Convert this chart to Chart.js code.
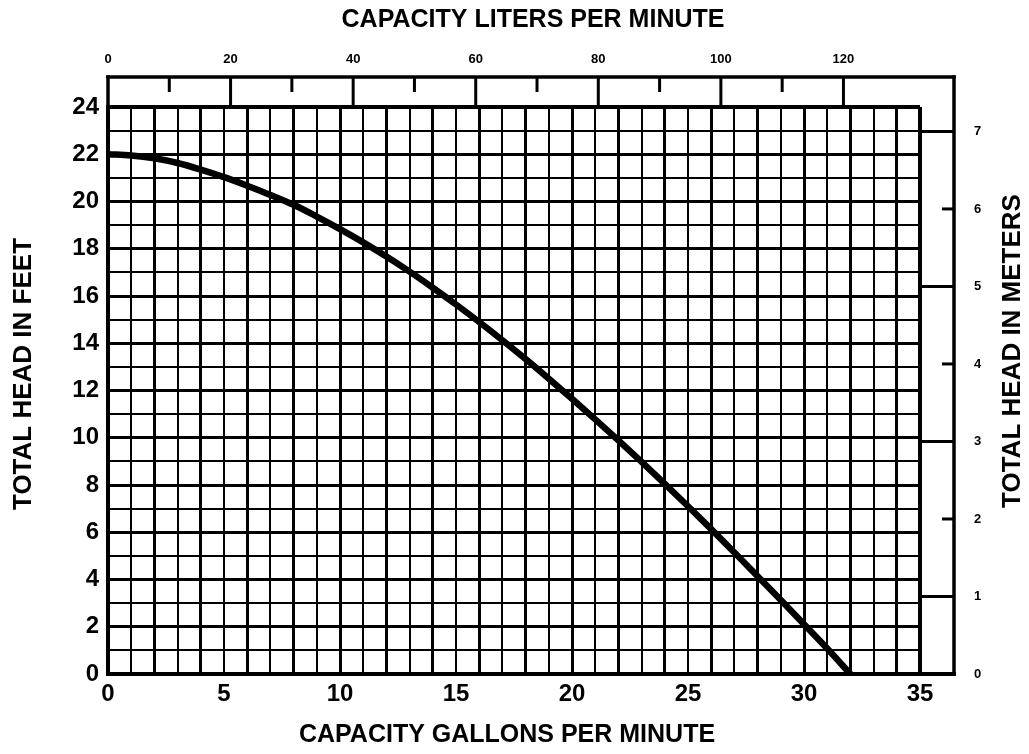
<!DOCTYPE html>
<html>
<head>
<meta charset="utf-8">
<script src="https://cdn.jsdelivr.net/npm/chart.js@4/dist/chart.umd.min.js"></script>
<style>
  html, body { margin: 0; padding: 0; background: #fff; }
  canvas { display: block; }
</style>
</head>
<body>
<canvas id="c" width="1029" height="754"></canvas>
<script>
// ---- data ----
const flowGpm = [0,1,2,3,4,5,6,7,8,9,10,11,12,13,14,15,16,17,18,19,20,21,22,23,24,25,26,27,28,29,30,31,32];
const headFt  = [22.0,21.95,21.83,21.63,21.35,21.03,20.67,20.28,19.86,19.36,18.83,18.27,17.67,17.03,16.35,15.64,14.9,14.13,13.33,12.5,11.65,10.78,9.89,8.98,8.05,7.1,6.13,5.14,4.14,3.13,2.11,1.08,0];

const gpmLabels   = [0,5,10,15,20,25,30,35];
const feetLabels  = [0,2,4,6,8,10,12,14,16,18,20,22,24];
const literLabels = [0,20,40,60,80,100,120];
const meterLabels = [0,1,2,3,4,5,6,7];

const titleBottom = 'CAPACITY GALLONS PER MINUTE';
const titleTop    = 'CAPACITY LITERS PER MINUTE';
const titleLeft   = 'TOTAL HEAD IN FEET';
const titleRight  = 'TOTAL HEAD IN METERS';

const GPM_MAX = 35, FT_MAX = 24;
const L_PER_GAL = 3.78541, M_PER_FT = 0.3048;

const FONT = "'Liberation Sans', Arial, Helvetica, sans-serif";

const lw = (ctx, edges) => {
  const v = ctx.tick ? ctx.tick.value : 0;
  if (edges.includes(v)) return 4;
  return (v % 2 === 0) ? 3 : 2;
};

const framePlugin = {
  id: 'frame',
  afterDraw(chart) {
    const { ctx, chartArea: a, scales } = chart;
    const x2 = scales.x2, y2 = scales.y2;
    const colW = 34, bandH = 30, minorLen = 15, shortTick = 12;
    const right = a.right + colW;
    const top = a.top - bandH;
    const line = (x1, y1, xx, yy, w) => {
      ctx.lineWidth = w; ctx.beginPath(); ctx.moveTo(x1, y1); ctx.lineTo(xx, yy); ctx.stroke();
    };
    ctx.save();
    ctx.strokeStyle = '#000';
    ctx.lineCap = 'square';
    line(a.left, top, right, top, 3.5);
    line(a.left, top, a.left, a.top, 3.5);
    line(right, top, right, a.bottom, 3.5);
    line(a.right, a.bottom, right, a.bottom, 4);
    ctx.lineCap = 'butt';
    x2.ticks.forEach(t => {
      const v = t.value;
      if (v <= 0 || !Number.isInteger(v)) return;
      const px = x2.getPixelForValue(v);
      if (v % 20 === 0) line(px, top, px, a.top, 3);
      else line(px, top, px, top + minorLen, 3);
    });
    y2.ticks.forEach(t => {
      const v = t.value;
      if (v <= 0 || !Number.isInteger(v)) return;
      const py = y2.getPixelForValue(v);
      if (v % 2 === 1) line(a.right, py, right, py, 3);
      else line(right - shortTick, py, right, py, 3);
    });
    ctx.fillStyle = '#000';
    ctx.textAlign = 'center';
    ctx.textBaseline = 'middle';
    ctx.font = `bold 25px ${FONT}`;
    ctx.fillText(titleTop, 533, 20);
    ctx.fillText(titleBottom, 507, 735);
    ctx.font = `bold 26px ${FONT}`;
    ctx.save(); ctx.translate(24, 374); ctx.rotate(-Math.PI / 2); ctx.fillText(titleLeft, 0, 0); ctx.restore();
    ctx.save(); ctx.translate(1013, 351); ctx.rotate(-Math.PI / 2); ctx.fillText(titleRight, 0, 0); ctx.restore();
    ctx.restore();
  }
};

new Chart(document.getElementById('c'), {
  type: 'line',
  data: {
    datasets: [{
      data: flowGpm.map((g, i) => ({ x: g, y: headFt[i] })),
      borderColor: '#000',
      borderWidth: 6.5,
      pointRadius: 0,
      fill: false,
      cubicInterpolationMode: 'monotone',
      xAxisID: 'x',
      yAxisID: 'y'
    }]
  },
  options: {
    responsive: false,
    animation: false,
    devicePixelRatio: 1,
    layout: { padding: 0 },
    plugins: { legend: { display: false }, tooltip: { enabled: false } },
    scales: {
      x: {
        type: 'linear', position: 'bottom', min: 0, max: GPM_MAX,
        afterFit(s) { s.height = 80; },
        ticks: {
          stepSize: 1, autoSkip: false, maxRotation: 0, minRotation: 0, padding: 6, color: '#000',
          font: { family: FONT, size: 24, weight: 'bold' },
          callback: v => gpmLabels.includes(v) ? String(v) : ''
        },
        grid: { color: '#000', drawTicks: false, lineWidth: c => lw(c, [0, GPM_MAX]) },
        border: { display: true, color: '#000', width: 4 }
      },
      y: {
        type: 'linear', position: 'left', min: 0, max: FT_MAX,
        afterFit(s) { s.width = 108; },
        ticks: {
          stepSize: 1, autoSkip: false, padding: 9, color: '#000',
          font: { family: FONT, size: 24, weight: 'bold' },
          callback: v => feetLabels.includes(v) ? String(v) : ''
        },
        grid: { color: '#000', drawTicks: false, lineWidth: c => lw(c, [0, FT_MAX]) },
        border: { display: true, color: '#000', width: 4 }
      },
      x2: {
        type: 'linear', position: 'top', display: true, min: 0, max: GPM_MAX * L_PER_GAL,
        afterFit(s) { s.height = 107; },
        ticks: {
          stepSize: 10, autoSkip: false, maxRotation: 0, minRotation: 0, padding: 40, color: '#000',
          font: { family: FONT, size: 13, weight: 'bold' },
          callback: v => literLabels.includes(v) ? String(v) : ''
        },
        grid: { display: false, drawTicks: false },
        border: { display: false }
      },
      y2: {
        type: 'linear', position: 'right', display: true, min: 0, max: FT_MAX * M_PER_FT,
        afterFit(s) { s.width = 109; },
        ticks: {
          stepSize: 1, autoSkip: false, padding: 54, color: '#000',
          font: { family: FONT, size: 13, weight: 'bold' },
          callback: v => meterLabels.includes(v) ? String(v) : ''
        },
        grid: { display: false, drawTicks: false },
        border: { display: false }
      }
    }
  },
  plugins: [framePlugin]
});
</script>
</body>
</html>
